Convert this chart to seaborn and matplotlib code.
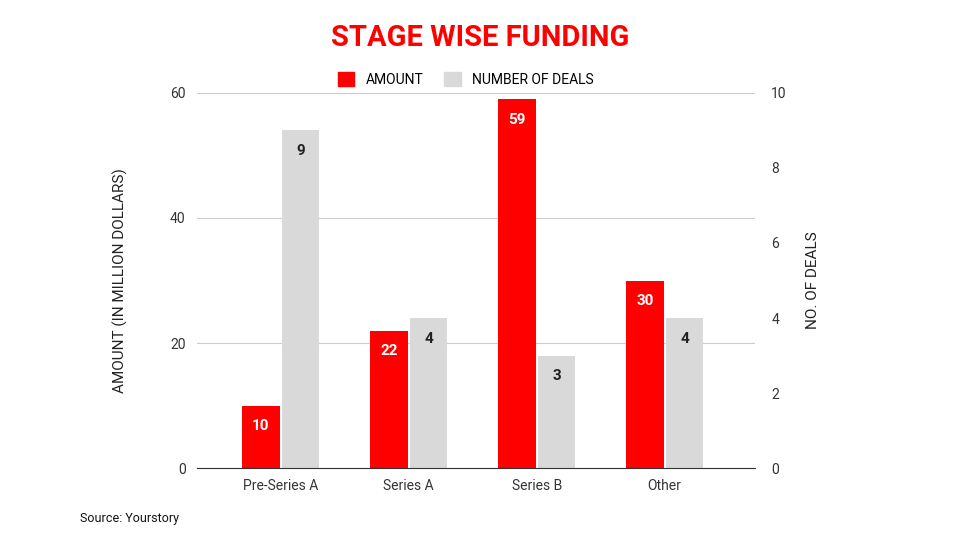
import matplotlib
matplotlib.use("Agg")
import matplotlib.pyplot as plt
import seaborn as sns
import pandas as pd

stages = ["Pre-Series A", "Series A", "Series B", "Other"]
amount = [10, 22, 59, 30]
deals = [9, 4, 3, 4]

RED = "#ff0000"
GRAY = "#d9d9d9"
SCALE = 60 / 10  # deals axis 0-10 mapped onto amount axis 0-60

df = pd.DataFrame({
    "stage": stages * 2,
    "series": ["AMOUNT"] * 4 + ["NUMBER OF DEALS"] * 4,
    "value": amount + [d * SCALE for d in deals],
})

plt.rcParams["font.family"] = "Roboto"
fig = plt.figure(figsize=(9.6, 5.4), dpi=100)
ax = fig.add_axes([0.205, 0.133, 0.581, 0.695])
sns.barplot(data=df, x="stage", y="value", hue="series", palette=[RED, GRAY],
            width=0.62, gap=0.05, saturation=1, ax=ax, legend=False)
ax.set_xlim(-0.656, 3.703)

ax.set_ylim(0, 60)
ax.set_yticks([0, 20, 40, 60])
ax.grid(axis="y", color="#cccccc", lw=0.8)
ax.set_axisbelow(True)
for s in ["top", "right", "left"]:
    ax.spines[s].set_visible(False)
ax.spines["bottom"].set_color("#333333")
ax.tick_params(axis="both", length=0, labelsize=10, colors="#333333", pad=8)
ax.set_xlabel("")
ax.set_ylabel("AMOUNT (IN MILLION DOLLARS)", fontsize=11, color="#222222", labelpad=30)

ax2 = ax.twinx()
ax2.set_ylim(0, 10)
ax2.set_yticks([0, 2, 4, 6, 8, 10])
for s in ax2.spines.values():
    s.set_visible(False)
ax2.tick_params(length=0, labelsize=10, colors="#333333", pad=12)
ax2.set_ylabel("NO. OF DEALS", fontsize=11, color="#222222", labelpad=14)

ax.bar_label(ax.containers[0], labels=[str(v) for v in amount], padding=-20,
             color="white", fontsize=11, fontweight="bold")
ax.bar_label(ax.containers[1], labels=[str(v) for v in deals], padding=-20,
             color="#222222", fontsize=11, fontweight="bold")

fig.text(0.5, 0.93, "STAGE WISE FUNDING", ha="center", va="center",
         color=RED, fontsize=21, fontweight="bold")

h = [plt.Rectangle((0, 0), 1, 1, color=RED), plt.Rectangle((0, 0), 1, 1, color=GRAY)]
fig.legend(h, ["AMOUNT", "NUMBER OF DEALS"], loc="center", bbox_to_anchor=(0.485, 0.853),
           ncol=2, frameon=False, fontsize=10, handlelength=1.2, handleheight=1.2,
           columnspacing=1.5)

fig.text(0.083, 0.033, "Source: Yourstory", fontsize=9, color="#111111")

fig.savefig("out.png", dpi=100)
